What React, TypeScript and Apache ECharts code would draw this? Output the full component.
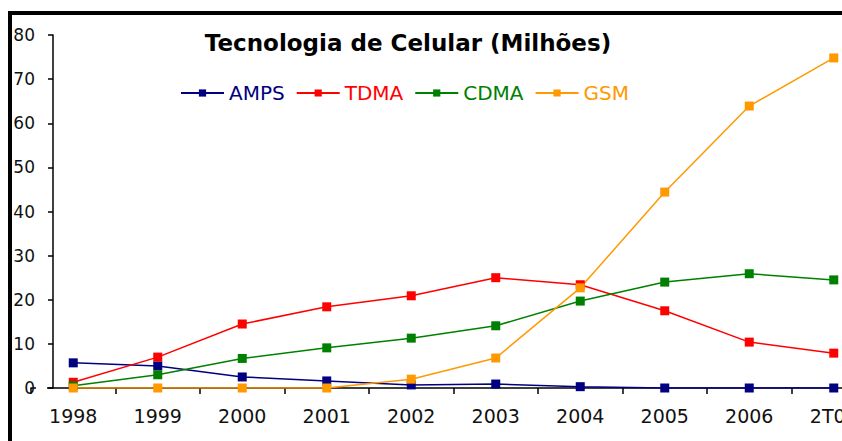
import React, { useEffect, useRef } from "react";
import * as echarts from "echarts";

const categories = ["1998", "1999", "2000", "2001", "2002", "2003", "2004", "2005", "2006", "2T07"];
const amps = [5.7, 5.0, 2.5, 1.6, 0.7, 0.9, 0.3, 0, 0, 0];
const tdma = [1.3, 7.0, 14.5, 18.4, 20.9, 25.0, 23.4, 17.5, 10.4, 7.9];
const cdma = [0.5, 3.0, 6.7, 9.1, 11.3, 14.1, 19.7, 24.0, 25.9, 24.5];
const gsm = [0, 0, 0, 0, 2.0, 6.8, 22.7, 44.4, 63.9, 74.8];
const seriesNames = ["AMPS", "TDMA", "CDMA", "GSM"];
const seriesColors = ["#000080", "#FF0000", "#008000", "#FF9900"];
const seriesData = [amps, tdma, cdma, gsm];
const titleText = "Tecnologia de Celular (Milhões)";

export default function App() {
  const ref = useRef<HTMLDivElement>(null);
  useEffect(() => {
    if (!ref.current) return;
    const chart = echarts.init(ref.current, null, { renderer: "svg" });
    const font = "'DejaVu Sans', Verdana, sans-serif";
    chart.setOption({
      animation: false,
      backgroundColor: "transparent",
      title: {
        text: titleText,
        left: 403,
        textAlign: "center",
        top: 26,
        textStyle: { fontFamily: font, fontSize: 23, fontWeight: "bold", color: "#000" },
      },
      legend: {
        left: 175,
        top: 78,
        itemWidth: 43,
        itemHeight: 9,
        itemGap: 11,
        textStyle: { fontFamily: font, fontSize: 20 },
        data: seriesNames.map((n, i) => ({ name: n, textStyle: { color: seriesColors[i] } })),
      },
      grid: { left: 31, width: 845, top: 35, height: 353 },
      xAxis: {
        type: "category",
        data: categories,
        boundaryGap: true,
        axisLine: { lineStyle: { color: "#000", width: 1.5 } },
        axisTick: { show: true, length: 6, lineStyle: { color: "#000", width: 1.5 } },
        axisLabel: { fontFamily: font, fontSize: 19, color: "#111", margin: 18 },
      },
      yAxis: {
        type: "value",
        min: 0,
        max: 80,
        interval: 10,
        offset: -22,
        splitLine: { show: false },
        axisLine: { show: true, lineStyle: { color: "#000", width: 1.5 } },
        axisTick: { show: true, length: 5, lineStyle: { color: "#000", width: 1.5 } },
        axisLabel: { fontFamily: font, fontSize: 17, color: "#111", margin: 18 },
      },
      graphic: [
        {
          type: "rect",
          z: 100,
          shape: { x: 36, y: 385, width: 11, height: 12 },
          style: { fill: "#fff" },
        },
      ],
      series: seriesNames.map((n, i) => ({
        name: n,
        type: "line",
        data: seriesData[i],
        symbol: "rect",
        symbolSize: 9,
        color: seriesColors[i],
        lineStyle: { width: 1.5, color: seriesColors[i] },
        itemStyle: { color: seriesColors[i] },
      })),
    });
    return () => chart.dispose();
  }, []);
  return (
    <div
      style={{
        position: "fixed",
        left: 0,
        top: 0,
        width: 842,
        height: 441,
        background: "#fff",
        overflow: "hidden",
      }}
    >
      <div
        style={{
          position: "absolute",
          left: 8,
          top: 11,
          width: 834,
          height: 430,
          borderTop: "4px solid #000",
          borderLeft: "4px solid #000",
          boxSizing: "border-box",
        }}
      />
      <div ref={ref} style={{ position: "absolute", left: 0, top: 0, width: 890, height: 441 }} />
    </div>
  );
}
